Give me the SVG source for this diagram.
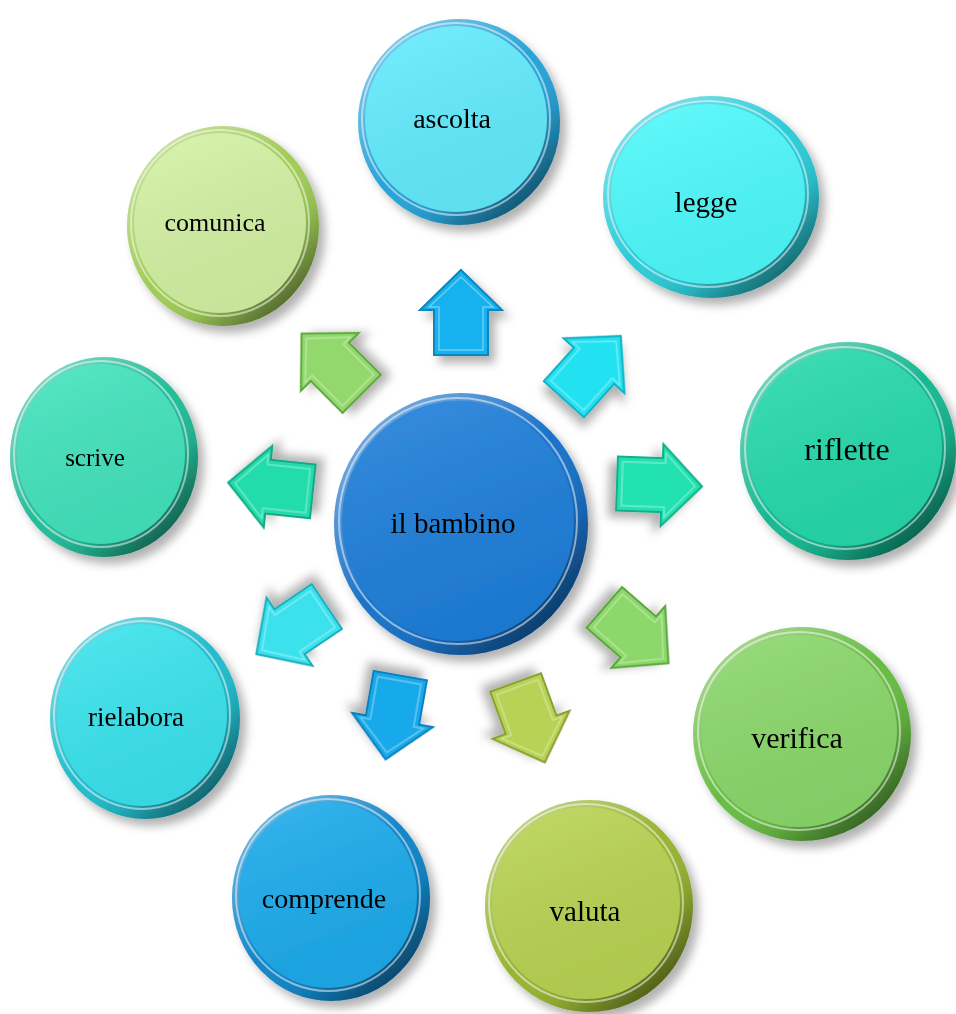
<svg xmlns="http://www.w3.org/2000/svg" width="956" height="1014" viewBox="0 0 956 1014">
<defs>
<filter id="sh" x="-20%" y="-20%" width="150%" height="150%">
<feDropShadow dx="6" dy="7" stdDeviation="5" flood-color="#000" flood-opacity="0.3"/>
</filter>
<linearGradient id="rimShade" x1="0.15" y1="0.1" x2="0.9" y2="0.95">
<stop offset="0" stop-color="#fff" stop-opacity="0.4"/>
<stop offset="0.45" stop-color="#fff" stop-opacity="0"/>
<stop offset="0.7" stop-color="#000" stop-opacity="0.1"/>
<stop offset="1" stop-color="#000" stop-opacity="0.6"/>
</linearGradient>
<linearGradient id="faceShade" x1="0.3" y1="0" x2="0.7" y2="1">
<stop offset="0" stop-color="#fff" stop-opacity="0.1"/>
<stop offset="1" stop-color="#000" stop-opacity="0.05"/>
</linearGradient>
<path id="arr" d="M0,-43 L41,-3 L27,-3 L27,42 L-27,42 L-27,-3 L-41,-3 Z"/>
<path id="arrIn" d="M0,-36 L32,-6 L22,-6 L22,37 L-22,37 L-22,-6 L-32,-6 Z"/>
</defs>
<style>
text{font-family:"Liberation Serif","Times New Roman",serif;fill:#000;text-anchor:middle;dominant-baseline:central}
.rs{fill:url(#rimShade)}
.fs{fill:url(#faceShade)}
.hl{fill:none;stroke:#fff;stroke-opacity:0.5;stroke-width:2}
.ain{fill:none;stroke:#fff;stroke-opacity:0.35;stroke-width:1.5}
</style>

<g id="connectors">
<g transform="translate(461,313)" filter="url(#sh)"><use href="#arr" fill="#19b2ef" stroke="#0e86c0" stroke-width="2"/><use href="#arrIn" class="ain"/></g>
<g transform="translate(592,368) rotate(42)" filter="url(#sh)"><use href="#arr" fill="#22e2f2" stroke="#12b0c4" stroke-width="2"/><use href="#arrIn" class="ain"/></g>
<g transform="translate(332,364) rotate(-45)" filter="url(#sh)"><use href="#arr" fill="#92d86c" stroke="#5ea83c" stroke-width="2"/><use href="#arrIn" class="ain"/></g>
<g transform="translate(659,485) rotate(92)" filter="url(#sh)"><use href="#arr" fill="#22e2b2" stroke="#14ae88" stroke-width="2"/><use href="#arrIn" class="ain"/></g>
<g transform="translate(271,487) rotate(-84)" filter="url(#sh)"><use href="#arr" fill="#22dcab" stroke="#14a884" stroke-width="2"/><use href="#arrIn" class="ain"/></g>
<g transform="translate(636,635) rotate(131)" filter="url(#sh)"><use href="#arr" fill="#8cd86a" stroke="#5ca63c" stroke-width="2"/><use href="#arrIn" class="ain"/></g>
<g transform="translate(292,630) rotate(-124)" filter="url(#sh)"><use href="#arr" fill="#3ae2ee" stroke="#1aaebc" stroke-width="2"/><use href="#arrIn" class="ain"/></g>
<g transform="translate(393,717) rotate(190)" filter="url(#sh)"><use href="#arr" fill="#18aaea" stroke="#0e80bc" stroke-width="2"/><use href="#arrIn" class="ain"/></g>
<g transform="translate(530,722) rotate(160)" filter="url(#sh)"><use href="#arr" fill="#b8d254" stroke="#88a030" stroke-width="2"/><use href="#arrIn" class="ain"/></g>
</g>

<g id="n-center" filter="url(#sh)">
<ellipse cx="461" cy="524" rx="127" ry="131" fill="#1a72c8"/>
<ellipse cx="461" cy="524" rx="127" ry="131" class="rs"/>
<ellipse cx="458" cy="521" rx="116" ry="120" fill="#1e7ed9"/>
<ellipse cx="458" cy="521" rx="116" ry="120" class="fs"/>
<ellipse cx="458" cy="521" rx="119" ry="123" class="hl"/>
<text x="453" y="523" font-size="29">il bambino</text>
</g>

<g id="n-ascolta" filter="url(#sh)">
<ellipse cx="459" cy="122" rx="101" ry="103" fill="#28a4d8"/>
<ellipse cx="459" cy="122" rx="101" ry="103" class="rs"/>
<ellipse cx="456" cy="119" rx="91" ry="93" fill="#62eafc"/>
<ellipse cx="456" cy="119" rx="91" ry="93" class="fs"/>
<ellipse cx="456" cy="119" rx="94" ry="96" class="hl"/>
<text x="452" y="118" font-size="28">ascolta</text>
</g>

<g id="n-legge" filter="url(#sh)">
<ellipse cx="711" cy="197" rx="108" ry="101" fill="#2cccd8"/>
<ellipse cx="711" cy="197" rx="108" ry="101" class="rs"/>
<ellipse cx="708" cy="194" rx="97" ry="90" fill="#4ef8fa"/>
<ellipse cx="708" cy="194" rx="97" ry="90" class="fs"/>
<ellipse cx="708" cy="194" rx="100" ry="93" class="hl"/>
<text x="706" y="202" font-size="29">legge</text>
</g>

<g id="n-comunica" filter="url(#sh)">
<ellipse cx="223" cy="226" rx="96" ry="100" fill="#a0cc58"/>
<ellipse cx="223" cy="226" rx="96" ry="100" class="rs"/>
<ellipse cx="220" cy="223" rx="86" ry="90" fill="#d2f0a2"/>
<ellipse cx="220" cy="223" rx="86" ry="90" class="fs"/>
<ellipse cx="220" cy="223" rx="89" ry="93" class="hl"/>
<text x="215" y="222" font-size="26">comunica</text>
</g>

<g id="n-riflette" filter="url(#sh)">
<ellipse cx="848" cy="451" rx="108" ry="109" fill="#18b892"/>
<ellipse cx="848" cy="451" rx="108" ry="109" class="rs"/>
<ellipse cx="845" cy="448" rx="97" ry="98" fill="#26d8aa"/>
<ellipse cx="845" cy="448" rx="97" ry="98" class="fs"/>
<ellipse cx="845" cy="448" rx="100" ry="101" class="hl"/>
<text x="847" y="449" font-size="32">riflette</text>
</g>

<g id="n-scrive" filter="url(#sh)">
<ellipse cx="104" cy="457" rx="94" ry="100" fill="#24bc98"/>
<ellipse cx="104" cy="457" rx="94" ry="100" class="rs"/>
<ellipse cx="101" cy="454" rx="84" ry="90" fill="#42e2bc"/>
<ellipse cx="101" cy="454" rx="84" ry="90" class="fs"/>
<ellipse cx="101" cy="454" rx="87" ry="93" class="hl"/>
<text x="95" y="457" font-size="25">scrive</text>
</g>

<g id="n-verifica" filter="url(#sh)">
<ellipse cx="802" cy="734" rx="109" ry="107" fill="#68bc44"/>
<ellipse cx="802" cy="734" rx="109" ry="107" class="rs"/>
<ellipse cx="799" cy="731" rx="98" ry="96" fill="#8ad66a"/>
<ellipse cx="799" cy="731" rx="98" ry="96" class="fs"/>
<ellipse cx="799" cy="731" rx="101" ry="99" class="hl"/>
<text x="797" y="737" font-size="30">verifica</text>
</g>

<g id="n-rielabora" filter="url(#sh)">
<ellipse cx="145" cy="718" rx="95" ry="101" fill="#22bccc"/>
<ellipse cx="145" cy="718" rx="95" ry="101" class="rs"/>
<ellipse cx="142" cy="715" rx="85" ry="91" fill="#3ae2ec"/>
<ellipse cx="142" cy="715" rx="85" ry="91" class="fs"/>
<ellipse cx="142" cy="715" rx="88" ry="94" class="hl"/>
<text x="136" y="717" font-size="27">rielabora</text>
</g>

<g id="n-comprende" filter="url(#sh)">
<ellipse cx="331" cy="898" rx="99" ry="103" fill="#1286c8"/>
<ellipse cx="331" cy="898" rx="99" ry="103" class="rs"/>
<ellipse cx="328" cy="895" rx="89" ry="93" fill="#1caaea"/>
<ellipse cx="328" cy="895" rx="89" ry="93" class="fs"/>
<ellipse cx="328" cy="895" rx="92" ry="96" class="hl"/>
<text x="324" y="898" font-size="28">comprende</text>
</g>

<g id="n-valuta" filter="url(#sh)">
<ellipse cx="589" cy="906" rx="104" ry="106" fill="#98b432"/>
<ellipse cx="589" cy="906" rx="104" ry="106" class="rs"/>
<ellipse cx="586" cy="903" rx="94" ry="96" fill="#b8d252"/>
<ellipse cx="586" cy="903" rx="94" ry="96" class="fs"/>
<ellipse cx="586" cy="903" rx="97" ry="99" class="hl"/>
<text x="585" y="911" font-size="29">valuta</text>
</g>
</svg>
